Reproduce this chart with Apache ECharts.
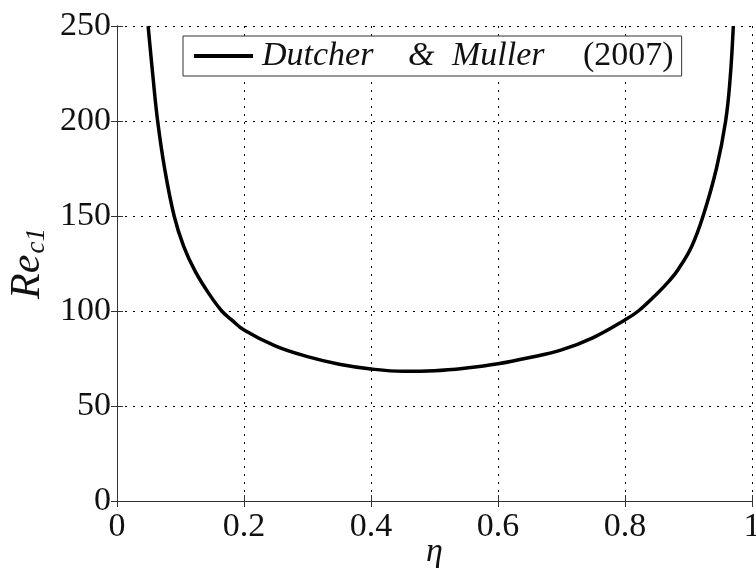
<!DOCTYPE html>
<html>
<head>
<meta charset="utf-8">
<script src="https://cdn.jsdelivr.net/npm/echarts@6/dist/echarts.min.js"></script>
<style>
  html, body { margin: 0; padding: 0; background: #fff; }
  #chart { width: 756px; height: 572px; }
</style>
</head>
<body>
<div id="chart"></div>
<script>
// eta (radius ratio) and critical Reynolds number
var etaValues = [0.049, 0.057, 0.064, 0.075, 0.090, 0.105, 0.123, 0.145, 0.165, 0.18, 0.2, 0.25, 0.3, 0.35, 0.4, 0.45,
  0.5, 0.55, 0.6, 0.65, 0.7, 0.75, 0.8, 0.821, 0.85, 0.87, 0.884, 0.905, 0.923, 0.944, 0.9585, 0.9655, 0.9706]
var recValues = [250, 222, 200, 175, 150, 134, 121, 109, 100, 95.5, 90, 81.5, 76, 72, 69.5, 68.3,
  68.6, 70, 72.2, 75.5, 79.5, 86, 95.3, 100, 109, 116, 122, 134, 150, 175, 200, 222, 250]
var xTickLabels = ['0', '0.2', '0.4', '0.6', '0.8', '1']
var yTickLabels = ['0', '50', '100', '150', '200', '250']
var seriesName = 'Dutcher & Muller (2007)'

var serif = 'Liberation Serif'
var axisColor = '#333'

var chart = echarts.init(document.getElementById('chart'))

var data = etaValues.map(function(x, i) {
  return [x, recValues[i]]
})

var gridLine = {
  show: true,
  lineStyle: { color: '#000', width: 1, type: [2, 6] }
}

var legendWord = function(italic, width) {
  return {
    fontFamily: serif,
    fontStyle: italic ? 'italic' : 'normal',
    fontSize: 34,
    lineHeight: 38,
    color: '#111',
    width: width
  }
}

chart.setOption({
  backgroundColor: '#fff',
  animation: false,
  grid: { left: 117, right: 4, top: 26, bottom: 71, containLabel: false, outerBoundsMode: 'none' },
  legend: {
    left: 183,
    top: 36,
    data: [seriesName],
    icon: 'rect',
    itemWidth: 59,
    itemHeight: 4,
    padding: [3, 8, 3, 11],
    borderColor: '#333',
    borderWidth: 1,
    backgroundColor: '#fff',
    formatter: function() {
      return '{a|Dutcher}{b|&}{c|Muller}{d|(2007)}'
    },
    textStyle: {
      padding: [0, 0, 0, 4],
      rich: {
        a: legendWord(true, 146),
        b: legendWord(true, 44),
        c: legendWord(true, 131),
        d: legendWord(false, 90)
      }
    }
  },
  xAxis: [{
    type: 'value',
    min: 0,
    max: 1,
    interval: 0.2,
    name: 'η',
    nameLocation: 'middle',
    nameGap: 34,
    nameMoveOverlap: false,
    nameTextStyle: { fontFamily: serif, fontStyle: 'italic', fontSize: 34, color: '#111' },
    axisLine: { show: true, lineStyle: { color: axisColor, width: 1 } },
    axisTick: { show: true, inside: true, length: 6, lineStyle: { color: axisColor } },
    axisLabel: {
      fontFamily: serif,
      fontSize: 34,
      color: '#111',
      margin: 9,
      formatter: function(v) {
        return xTickLabels[Math.round(v / 0.2)]
      }
    },
    splitLine: gridLine
  }, {
    type: 'value',
    position: 'top',
    min: 0,
    max: 1,
    interval: 0.2,
    axisLine: { show: true, lineStyle: { color: axisColor, width: 1 } },
    axisTick: { show: true, inside: true, length: 6, lineStyle: { color: axisColor } },
    axisLabel: { show: false },
    splitLine: { show: false }
  }],
  yAxis: [{
    type: 'value',
    min: 0,
    max: 250,
    interval: 50,
    name: '{r|Re}{s|c1}',
    nameLocation: 'middle',
    nameGap: 67,
    nameMoveOverlap: false,
    nameTextStyle: {
      rich: {
        r: { fontFamily: serif, fontStyle: 'italic', fontSize: 42, color: '#111' },
        s: { fontFamily: serif, fontStyle: 'italic', fontSize: 27, color: '#111', padding: [18, 0, 0, 1] }
      }
    },
    axisLine: { show: true, lineStyle: { color: axisColor, width: 1 } },
    axisTick: { show: true, inside: true, length: 6, lineStyle: { color: axisColor } },
    axisLabel: {
      fontFamily: serif,
      fontSize: 34,
      color: '#111',
      margin: 6,
      formatter: function(v) {
        return yTickLabels[Math.round(v / 50)]
      }
    },
    splitLine: gridLine
  }, {
    type: 'value',
    position: 'right',
    min: 0,
    max: 250,
    interval: 50,
    axisLine: { show: true, lineStyle: { color: axisColor, width: 1 } },
    axisTick: { show: true, inside: true, length: 6, lineStyle: { color: axisColor } },
    axisLabel: { show: false },
    splitLine: { show: false }
  }],
  series: [{
    name: seriesName,
    type: 'line',
    data: data,
    smooth: 0.4,
    showSymbol: false,
    symbol: 'none',
    lineStyle: { color: '#000', width: 3.5 },
    itemStyle: { color: '#000' },
    z: 5
  }]
})
</script>
</body>
</html>
